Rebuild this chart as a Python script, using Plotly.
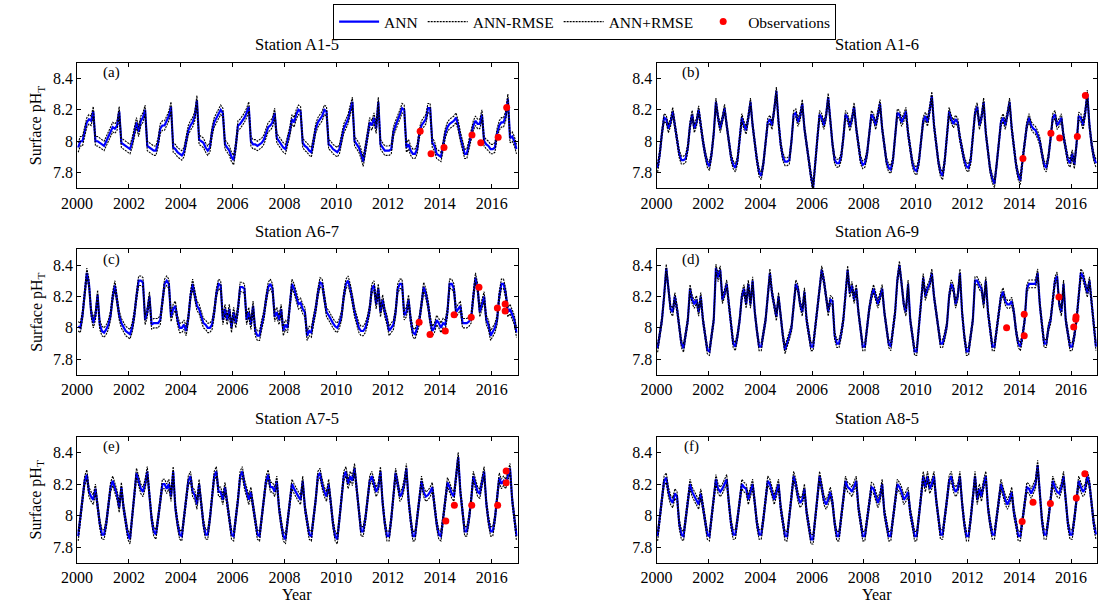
import plotly.graph_objects as go

# ---------------- data ----------------
YEARS = list(range(2000, 2017))
STATIONS = ["Station A1-5", "Station A1-6", "Station A6-7", "Station A6-9", "Station A7-5", "Station A8-5"]
PANEL_TAGS = ["(a)", "(b)", "(c)", "(d)", "(e)", "(f)"]
X_TICKS = [2000, 2002, 2004, 2006, 2008, 2010, 2012, 2014, 2016]
Y_TICKS = [7.8, 8.0, 8.2, 8.4]
Y_TICK_TEXT = ["7.8", "8", "8.2", "8.4"]
RMSE = [0.03, 0.025, 0.03, 0.025, 0.03, 0.03]

# monthly ANN estimates, one row per year (Jan..Dec)
ann_a1_5 = [
    7.96, 8.00, 8.00, 8.07, 8.12, 8.14, 8.13, 8.19, 8.00, 8.00, 7.99, 7.98,
    7.97, 8.00, 8.03, 8.06, 8.09, 8.08, 8.10, 8.19, 7.99, 7.98, 7.97, 7.96,
    7.95, 7.99, 8.05, 8.12, 8.06, 8.13, 8.15, 8.20, 7.97, 7.96, 7.95, 7.94,
    7.94, 7.99, 8.08, 8.10, 8.10, 8.13, 8.16, 8.22, 7.96, 7.95, 7.93, 7.92,
    7.91, 7.93, 8.00, 8.07, 8.10, 8.12, 8.16, 8.26, 8.01, 8.00, 7.99, 7.96,
    7.94, 7.96, 8.06, 8.12, 8.15, 8.18, 8.20, 8.18, 7.98, 7.96, 7.94, 7.90,
    7.88, 7.97, 8.10, 8.11, 8.13, 8.15, 8.18, 8.22, 8.00, 7.98, 7.98, 7.97,
    7.98, 7.99, 8.01, 8.05, 8.09, 8.10, 8.12, 8.18, 8.02, 8.00, 7.98, 7.96,
    7.95, 8.00, 8.06, 8.14, 8.12, 8.17, 8.20, 8.19, 7.99, 7.97, 7.96, 7.94,
    7.93, 8.00, 8.08, 8.12, 8.14, 8.16, 8.20, 8.19, 7.98, 7.97, 7.95, 7.94,
    7.93, 7.95, 8.02, 8.08, 8.11, 8.14, 8.20, 8.25, 8.00, 7.98, 7.96, 7.92,
    7.87, 7.95, 8.05, 8.12, 8.10, 8.15, 8.08, 8.25, 7.98, 7.96, 7.94, 7.94,
    7.94, 7.95, 8.06, 8.10, 8.13, 8.17, 8.21, 8.20, 7.96, 7.98, 7.94, 7.92,
    7.92, 7.95, 8.05, 8.10, 8.12, 8.14, 8.21, 8.21, 7.99, 7.97, 7.92, 7.91,
    7.90, 7.97, 8.05, 8.09, 8.11, 8.12, 8.13, 8.15, 8.10, 8.03, 7.97, 7.92,
    7.92, 7.98, 8.05, 8.10, 8.13, 8.11, 8.11, 8.17, 8.00, 7.98, 7.97, 7.95,
    7.95, 7.96, 8.05, 8.10, 8.12, 8.12, 8.16, 8.27, 8.02, 8.03, 8.00, 7.95,
]
ann_a1_6 = [
    7.83, 7.92, 8.05, 8.15, 8.14, 8.08, 8.12, 8.19, 8.10, 8.00, 7.92, 7.88,
    7.88, 7.89, 7.96, 8.10, 8.17, 8.08, 8.12, 8.20, 8.08, 8.00, 7.92, 7.86,
    7.84, 7.92, 8.05, 8.25, 8.15, 8.08, 8.14, 8.21, 8.10, 7.98, 7.90, 7.85,
    7.83, 7.88, 8.00, 8.15, 8.10, 8.07, 8.15, 8.25, 8.10, 7.98, 7.88, 7.80,
    7.78, 7.86, 8.00, 8.12, 8.14, 8.10, 8.20, 8.32, 8.12, 7.98, 7.90, 7.87,
    7.87, 7.88, 8.00, 8.17, 8.18, 8.12, 8.16, 8.24, 8.08, 7.97, 7.88, 7.78,
    7.70, 7.88, 8.02, 8.17, 8.15, 8.10, 8.16, 8.28, 8.10, 7.98, 7.88, 7.86,
    7.86, 7.90, 8.02, 8.17, 8.15, 8.09, 8.14, 8.22, 8.08, 7.96, 7.88, 7.85,
    7.86, 7.92, 8.04, 8.17, 8.15, 8.10, 8.17, 8.24, 8.08, 7.96, 7.87, 7.83,
    7.82, 7.88, 8.02, 8.18, 8.17, 8.12, 8.15, 8.19, 8.05, 7.95, 7.86, 7.82,
    7.81, 7.87, 8.00, 8.13, 8.16, 8.12, 8.20, 8.29, 8.10, 7.98, 7.87, 7.80,
    7.78, 7.88, 8.02, 8.19, 8.14, 8.11, 8.14, 8.12, 8.02, 7.95, 7.88, 7.84,
    7.83, 7.88, 8.02, 8.18, 8.22, 8.10, 8.15, 8.25, 8.05, 7.93, 7.82, 7.76,
    7.73, 7.85, 8.00, 8.12, 8.15, 8.10, 8.17, 8.25, 8.08, 7.95, 7.85, 7.78,
    7.75, 7.88, 8.00, 8.10, 8.15, 8.10, 8.08, 8.07, 8.04, 8.00, 7.92, 7.85,
    7.83, 7.90, 8.02, 8.15, 8.17, 8.10, 8.12, 8.15, 8.03, 7.95, 7.88, 7.86,
    7.92, 7.85, 7.98, 8.16, 8.15, 8.10, 8.18, 8.30, 8.10, 7.98, 7.90, 7.86,
]
ann_a6_7 = [
    8.01, 8.00, 8.08, 8.20, 8.35, 8.28, 8.10, 8.03, 8.08, 8.21, 8.02, 7.98,
    7.97, 7.99, 8.02, 8.08, 8.20, 8.27, 8.18, 8.08, 8.03, 8.00, 7.98, 7.97,
    7.96, 8.00, 8.08, 8.20, 8.30, 8.30, 8.29, 8.05, 8.10, 8.20, 8.02, 8.03,
    8.03, 8.03, 8.05, 8.15, 8.28, 8.30, 8.28, 8.07, 8.12, 8.14, 8.05, 8.00,
    8.00, 8.02, 7.98, 8.06, 8.20, 8.28, 8.22, 8.14, 8.12, 8.08, 8.03, 8.02,
    8.00, 8.00, 8.02, 8.10, 8.22, 8.28, 8.27, 8.05, 8.12, 8.05, 8.12, 8.00,
    8.10, 8.03, 8.12, 8.26, 8.26, 8.25, 8.05, 8.10, 8.02, 8.14, 7.98, 7.95,
    7.95, 8.02, 8.08, 8.18, 8.26, 8.28, 8.25, 8.07, 8.10, 8.05, 8.12, 7.98,
    8.02, 8.00, 8.12, 8.28, 8.25, 8.20, 8.15, 8.16, 8.12, 8.10, 7.95, 7.98,
    7.97, 8.05, 8.12, 8.22, 8.29, 8.28, 8.20, 8.10, 8.08, 8.05, 8.03, 8.01,
    8.00, 8.03, 8.08, 8.20, 8.28, 8.30, 8.25, 8.18, 8.10, 8.05, 8.00, 7.98,
    7.98, 8.00, 8.05, 8.12, 8.25, 8.27, 8.15, 8.25, 8.10, 8.18, 8.10, 8.05,
    7.98, 8.00, 8.02, 8.10, 8.25, 8.28, 8.28, 8.08, 8.10, 8.18, 8.05, 7.97,
    7.96, 8.00, 8.05, 8.15, 8.26, 8.22, 8.15, 8.05, 7.98, 8.00, 8.05, 8.03,
    8.00, 8.03, 8.02, 8.10, 8.28, 8.28, 8.25, 8.10, 8.12, 8.14, 8.03, 8.03,
    8.03, 8.04, 8.06, 8.20, 8.32, 8.25, 8.10, 8.15, 8.20, 8.05, 8.02, 7.95,
    7.98, 8.00, 8.05, 8.20, 8.28, 8.28, 8.22, 8.10, 8.12, 8.08, 8.05, 7.97,
]
ann_a6_9 = [
    7.87, 7.95, 8.05, 8.20, 8.38, 8.25, 8.12, 8.10, 8.20, 8.12, 8.00, 7.90,
    7.87, 7.95, 8.05, 8.25, 8.18, 8.15, 8.18, 8.10, 8.20, 8.05, 7.95, 7.86,
    7.85, 7.95, 8.05, 8.38, 8.32, 8.37, 8.18, 8.22, 8.28, 8.15, 8.00, 7.90,
    7.88, 7.95, 8.05, 8.20, 8.25, 8.15, 8.28, 8.15, 8.30, 8.10, 7.98, 7.88,
    7.88, 7.98, 8.05, 8.20, 8.35, 8.22, 8.15, 8.07, 8.20, 8.05, 7.95, 7.86,
    7.90, 7.95, 8.00, 8.12, 8.28, 8.25, 8.15, 8.10, 8.23, 8.05, 7.95, 7.88,
    7.88, 8.00, 8.10, 8.25, 8.37, 8.30, 8.20, 8.10, 8.18, 8.17, 7.95, 7.90,
    7.90, 7.96, 8.05, 8.22, 8.37, 8.22, 8.27, 8.18, 8.25, 8.10, 7.98, 7.88,
    7.88, 8.02, 8.12, 8.20, 8.25, 8.20, 8.15, 8.20, 8.25, 8.10, 7.98, 7.90,
    7.88, 7.98, 8.10, 8.30, 8.40, 8.28, 8.15, 8.10, 8.28, 8.05, 7.95, 7.85,
    7.85, 8.00, 8.12, 8.32, 8.20, 8.25, 8.28, 8.35, 8.20, 8.10, 8.00, 7.90,
    7.90, 7.95, 8.02, 8.20, 8.28, 8.25, 8.15, 8.20, 8.35, 8.10, 7.95, 7.85,
    7.85, 7.95, 8.05, 8.30, 8.30, 8.27, 8.25, 8.15, 8.30, 8.10, 7.98, 7.88,
    7.88, 8.00, 8.10, 8.20, 8.23, 8.17, 8.15, 8.15, 8.17, 8.10, 7.98, 7.90,
    7.88, 7.95, 8.05, 8.25, 8.28, 8.28, 8.28, 8.28, 8.35, 8.15, 8.02, 7.90,
    7.90, 8.00, 8.05, 8.20, 8.30, 8.33, 8.15, 8.10, 8.28, 8.05, 7.95, 7.88,
    7.88, 7.95, 8.05, 8.20, 8.35, 8.33, 8.28, 8.22, 8.30, 8.15, 8.00, 7.88,
]
ann_a7_5 = [
    7.87, 7.98, 8.10, 8.22, 8.26, 8.15, 8.12, 8.10, 8.17, 8.05, 7.95, 7.88,
    7.88, 7.95, 8.05, 8.18, 8.22, 8.17, 8.13, 8.05, 8.18, 8.05, 7.95, 7.88,
    7.85, 7.98, 8.10, 8.27, 8.22, 8.17, 8.15, 8.20, 8.28, 8.10, 7.98, 7.90,
    7.88, 7.98, 8.08, 8.20, 8.20, 8.17, 8.20, 8.12, 8.28, 8.05, 7.95, 7.88,
    7.87, 7.98, 8.10, 8.22, 8.25, 8.15, 8.13, 8.07, 8.20, 8.05, 7.95, 7.88,
    7.88, 7.98, 8.10, 8.25, 8.28, 8.15, 8.15, 8.10, 8.18, 8.08, 7.95, 7.88,
    7.87, 7.98, 8.10, 8.25, 8.28, 8.20, 8.15, 8.10, 8.15, 8.05, 7.95, 7.88,
    7.87, 7.98, 8.10, 8.22, 8.26, 8.18, 8.18, 8.15, 8.22, 8.05, 7.95, 7.87,
    7.85, 7.98, 8.08, 8.20, 8.17, 8.14, 8.12, 8.10, 8.22, 8.05, 7.95, 7.88,
    7.87, 7.98, 8.10, 8.25, 8.27, 8.20, 8.15, 8.12, 8.20, 8.08, 7.95, 7.87,
    7.85, 7.98, 8.10, 8.25, 8.28, 8.20, 8.25, 8.22, 8.30, 8.15, 8.00, 7.90,
    7.90, 7.98, 8.10, 8.22, 8.25, 8.20, 8.15, 8.18, 8.28, 8.08, 7.95, 7.87,
    7.87, 7.98, 8.12, 8.27, 8.20, 8.12, 8.14, 8.20, 8.30, 8.10, 7.97, 7.87,
    7.87, 7.98, 8.10, 8.22, 8.15, 8.12, 8.13, 8.15, 8.18, 8.05, 7.95, 7.88,
    7.87, 7.98, 8.10, 8.21, 8.18, 8.14, 8.12, 8.25, 8.37, 8.15, 8.00, 7.90,
    7.90, 7.98, 8.10, 8.25, 8.20, 8.15, 8.14, 8.20, 8.28, 8.08, 7.97, 7.90,
    7.90, 7.98, 8.10, 8.24, 8.20, 8.22, 8.20, 8.25, 8.30, 8.10, 7.98, 7.87,
]
ann_a8_5 = [
    7.87, 7.98, 8.10, 8.22, 8.24, 8.15, 8.10, 8.08, 8.14, 8.12, 7.95, 7.88,
    7.87, 7.98, 8.08, 8.20, 8.15, 8.12, 8.10, 8.07, 8.14, 8.05, 7.95, 7.88,
    7.87, 7.98, 8.10, 8.23, 8.17, 8.15, 8.17, 8.20, 8.23, 8.08, 7.95, 7.88,
    7.88, 7.98, 8.10, 8.20, 8.18, 8.17, 8.10, 8.15, 8.20, 8.08, 7.95, 7.88,
    7.88, 7.98, 8.10, 8.22, 8.20, 8.15, 8.10, 8.15, 8.20, 8.05, 7.95, 7.87,
    7.87, 7.98, 8.12, 8.25, 8.20, 8.12, 8.08, 8.10, 8.17, 8.02, 7.93, 7.85,
    7.85, 7.97, 8.10, 8.25, 8.18, 8.10, 8.07, 8.10, 8.15, 8.08, 7.95, 7.87,
    7.87, 7.98, 8.10, 8.22, 8.18, 8.17, 8.15, 8.18, 8.22, 8.05, 7.95, 7.87,
    7.87, 7.98, 8.08, 8.18, 8.17, 8.12, 8.08, 8.12, 8.20, 8.02, 7.95, 7.87,
    7.87, 7.98, 8.10, 8.20, 8.18, 8.15, 8.10, 8.12, 8.15, 8.02, 7.95, 7.87,
    7.87, 7.98, 8.12, 8.25, 8.18, 8.25, 8.17, 8.20, 8.25, 8.10, 7.97, 7.88,
    7.88, 7.98, 8.10, 8.22, 8.25, 8.18, 8.15, 8.17, 8.25, 8.08, 7.95, 7.87,
    7.87, 7.98, 8.12, 8.25, 8.10, 8.17, 8.12, 8.20, 8.25, 8.05, 7.95, 7.88,
    7.88, 7.98, 8.10, 8.20, 8.15, 8.10, 8.07, 8.10, 8.15, 8.02, 7.95, 7.87,
    7.87, 7.98, 8.10, 8.18, 8.17, 8.14, 8.17, 8.20, 8.32, 8.12, 7.97, 7.88,
    7.88, 7.98, 8.10, 8.22, 8.18, 8.15, 8.14, 8.18, 8.25, 8.08, 7.95, 7.88,
    7.88, 7.98, 8.10, 8.22, 8.18, 8.15, 8.17, 8.25, 8.20, 8.05, 7.95, 7.88,
]

# observations (decimal year, pH)
obs_t_a1_5 = [2013.24, 2013.66, 2014.16, 2015.24, 2015.58, 2016.25, 2016.58]
obs_ph_a1_5 = [8.063, 7.92, 7.96, 8.04, 7.99, 8.025, 8.215]
obs_t_a1_6 = [2014.14, 2015.22, 2015.56, 2016.24, 2016.55]
obs_ph_a1_6 = [7.89, 8.05, 8.02, 8.03, 8.29]
obs_t_a6_7 = [2013.20, 2013.62, 2014.21, 2014.55, 2015.21, 2015.51, 2016.22, 2016.52, 2016.52]
obs_ph_a6_7 = [8.035, 7.957, 7.98, 8.084, 8.067, 8.258, 8.127, 8.152, 8.108]
obs_t_a6_9 = [2013.51, 2014.19, 2014.19, 2015.53, 2016.10, 2016.18, 2016.19]
obs_ph_a6_9 = [8.0, 8.086, 7.95, 8.197, 8.005, 8.055, 8.07]
obs_t_a7_5 = [2014.23, 2014.56, 2015.23, 2016.23, 2016.56, 2016.56]
obs_ph_a7_5 = [7.966, 8.065, 8.065, 8.065, 8.282, 8.208]
obs_t_a8_5 = [2014.11, 2014.53, 2015.20, 2016.20, 2016.53]
obs_ph_a8_5 = [7.962, 8.084, 8.076, 8.112, 8.265]

ANN_SERIES = [ann_a1_5, ann_a1_6, ann_a6_7, ann_a6_9, ann_a7_5, ann_a8_5]
OBS_T = [obs_t_a1_5, obs_t_a1_6, obs_t_a6_7, obs_t_a6_9, obs_t_a7_5, obs_t_a8_5]
OBS_PH = [obs_ph_a1_5, obs_ph_a1_6, obs_ph_a6_7, obs_ph_a6_9, obs_ph_a7_5, obs_ph_a8_5]

# ---------------- figure ----------------
W, H = 1099, 602
FONT = "Liberation Serif, Times New Roman, serif"
months_t = [y + (m + 0.5) / 12 for y in YEARS for m in range(12)]

# pixel boxes (left, right, top, bottom)
boxes = [
    (62, 509, 62.6, 188.4), (650, 1097, 62.6, 188.4),
    (62, 509, 249.3, 375.0), (650, 1097, 249.3, 375.0),
    (62, 509, 436.6, 563.0), (650, 1097, 436.6, 563.0),
]

fig = go.Figure()
layout = {}
annotations = []
for i in range(6):
    n = "" if i == 0 else str(i + 1)
    xa, ya = "x" + n, "y" + n
    ann = ANN_SERIES[i]
    lo = [v - RMSE[i] for v in ann]
    hi = [v + RMSE[i] for v in ann]
    show = i == 0
    fig.add_trace(go.Scatter(x=months_t, y=ann, mode="lines", name="ANN",
                             line=dict(color="#0000ff", width=2.2),
                             xaxis=xa, yaxis=ya, showlegend=show, legendrank=1))
    fig.add_trace(go.Scatter(x=months_t, y=lo, mode="lines", name="ANN-RMSE",
                             line=dict(color="black", width=1.1, dash="2px,1px"),
                             xaxis=xa, yaxis=ya, showlegend=show, legendrank=2))
    fig.add_trace(go.Scatter(x=months_t, y=hi, mode="lines", name="ANN+RMSE",
                             line=dict(color="black", width=1.1, dash="2px,1px"),
                             xaxis=xa, yaxis=ya, showlegend=show, legendrank=3))
    fig.add_trace(go.Scatter(x=OBS_T[i], y=OBS_PH[i], mode="markers", name="Observations",
                             marker=dict(color="#ff0000", size=7),
                             xaxis=xa, yaxis=ya, showlegend=show, legendrank=4))
    l, r, t, b = boxes[i]
    common = dict(showline=True, linecolor="black", linewidth=1, mirror="ticks",
                  ticks="inside", ticklen=4, tickcolor="black", showgrid=False,
                  zeroline=False, tickfont=dict(size=16, family=FONT, color="black"))
    layout["xaxis" + n] = dict(domain=[l / W, r / W], range=[2000, 2017], anchor=ya,
                               tickvals=X_TICKS, **common)
    layout["yaxis" + n] = dict(domain=[1 - b / H, 1 - t / H], range=[7.7, 8.5], anchor=xa,
                               tickvals=Y_TICKS, ticktext=Y_TICK_TEXT, **common)
    cx = (l + r) / 2
    annotations.append(dict(text=STATIONS[i], x=cx / W, y=1 - (t - 18) / H, xref="paper", yref="paper",
                            showarrow=False, xanchor="center", yanchor="middle",
                            font=dict(size=16.5, family=FONT, color="black")))
    annotations.append(dict(text=PANEL_TAGS[i], x=(l + 35) / W, y=1 - (t + 10) / H, xref="paper", yref="paper",
                            showarrow=False, xanchor="center", yanchor="middle",
                            font=dict(size=15, family=FONT, color="black")))
    if i % 2 == 0:
        annotations.append(dict(text="Surface pH<sub>T</sub>", x=21 / W, y=1 - ((t + b) / 2) / H,
                                xref="paper", yref="paper", showarrow=False, textangle=-90,
                                xanchor="center", yanchor="middle",
                                font=dict(size=16, family=FONT, color="black")))
    if i >= 4:
        annotations.append(dict(text="Year", x=cx / W, y=1 - 594 / H, xref="paper", yref="paper",
                                showarrow=False, xanchor="center", yanchor="middle",
                                font=dict(size=16, family=FONT, color="black")))

fig.update_layout(
    width=W, height=H, autosize=False,
    margin=dict(l=0, r=0, t=0, b=0),
    paper_bgcolor="white", plot_bgcolor="white",
    font=dict(family=FONT, size=16, color="black"),
    annotations=annotations,
    legend=dict(orientation="h", x=577 / W, xanchor="center", y=1 - 4 / H, yanchor="top",
                bgcolor="white", bordercolor="black", borderwidth=1,
                font=dict(size=15.5, family=FONT, color="black"), itemwidth=40,
                traceorder="normal"),
    **layout,
)

fig.write_html("out.html", config={"displayModeBar": False},
               post_script="document.body.style.margin='0px';")
